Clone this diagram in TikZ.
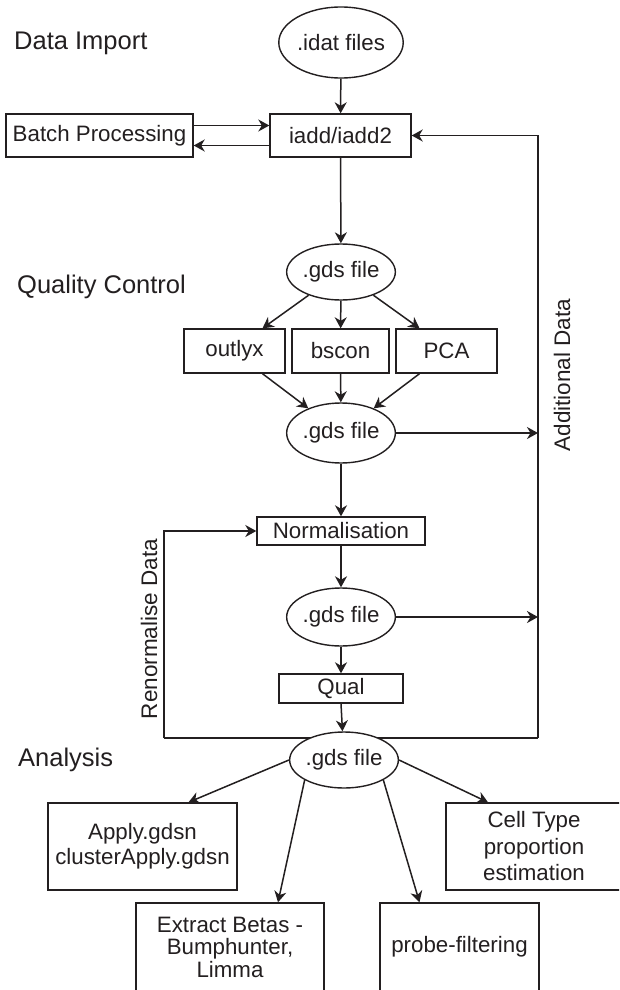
\documentclass[tikz,border=0pt]{standalone}
\usepackage{fontspec}
\setmainfont{Liberation Sans}
\usetikzlibrary{arrows.meta,shapes.geometric,backgrounds}
\definecolor{ink}{RGB}{35,31,32}
\tikzset{
  base/.style={draw=ink, text=ink, line width=1.4pt, inner sep=0pt, font=\fontsize{22.3}{25}\selectfont, align=center, fill=white},
  box/.style={base, rectangle},
  oval/.style={base, ellipse},
  head/.style={text=ink, inner sep=0pt, anchor=west, font=\fontsize{25.5}{28}\selectfont},
  side/.style={text=ink, inner sep=0pt, rotate=90, font=\fontsize{22.5}{25}\selectfont},
  arr/.style={draw=ink, line width=1.5pt, -{Stealth[length=11pt,width=12pt,inset=3.5pt]}},
  ln/.style={draw=ink, line width=1.5pt},
}
\begin{document}
\begin{tikzpicture}[x=1pt,y=-1pt]
\clip (0,0) rectangle (619,990);
% headings
\node[head] (hImport) at (14,43) {Data Import};
\node[head] (hQC) at (17,287) {Quality Control};
\node[head] (hAna) at (18,760) {Analysis};
\node[side] (tAdd) at (562,375) {Additional Data};
\node[side] (tRen) at (149,629) {Renormalise Data};
% nodes
\node[oval, minimum width=112pt, minimum height=71pt] (idat) at (341,42.5) {.idat files};
\node[box, minimum width=187pt, minimum height=43pt] (batch) at (99.5,135.5) {Batch Processing};
\node[box, minimum width=141pt, minimum height=43pt] (iadd) at (340.5,135.5) {iadd/iadd2};
\node[oval, minimum width=96pt, minimum height=56pt] (g1) at (341,272) {.gds file};
\node[box, minimum width=101pt, minimum height=44pt] (outlyx) at (234.5,351) {outlyx};
\node[box, minimum width=97pt, minimum height=44pt] (bscon) at (340.5,351) {bscon};
\node[box, minimum width=101pt, minimum height=44pt] (pca) at (446.5,351) {PCA};
\node[oval, minimum width=96pt, minimum height=60pt] (g2) at (341,433) {.gds file};
\node[box, minimum width=168pt, minimum height=28pt] (norm) at (341,531) {Normalisation};
\node[oval, minimum width=96pt, minimum height=58pt] (g3) at (341,617) {.gds file};
\node[box, minimum width=124pt, minimum height=29pt] (qual) at (341,688.5) {Qual};
\node[oval, minimum width=102pt, minimum height=56pt] (g4) at (344,760) {.gds file};
\node[box, minimum width=189pt, minimum height=87pt] (apply) at (142.5,846.5) {Apply.gdsn\\clusterApply.gdsn};
\node[box, minimum width=176pt, minimum height=87pt, font=\fontsize{22.3}{26.5}\selectfont] (cell) at (534,846.5) {Cell Type\\proportion\\estimation};
\node[box, minimum width=188pt, minimum height=88pt, font=\fontsize{22.3}{22.5}\selectfont] (extract) at (230,947) {Extract Betas -\\Bumphunter,\\Limma};
\node[box, minimum width=159pt, minimum height=88pt] (probe) at (459.5,947) {probe-filtering};
% loop coordinates
\coordinate (rtop) at (538,135.5);
\coordinate (rbot) at (538,738);
\coordinate (ltop) at (164,531);
\coordinate (lbot) at (164,738);
% connectors
\begin{pgfonlayer}{background}
\fill[white] (0,0) rectangle (619,990);
\draw[ln] (lbot) -- (rbot);
\end{pgfonlayer}
\draw[arr] (rbot) -- (rtop) -- (iadd.east);
\draw[arr] (lbot) -- (ltop) -- (norm.west);
\draw[arr] (idat) -- (iadd);
\draw[arr] ([yshift=10pt]batch.east) -- ([yshift=10pt]iadd.west);
\draw[arr] ([yshift=-10pt]iadd.west) -- ([yshift=-10pt]batch.east);
\draw[arr] (iadd) -- (g1);
\draw[arr] (g1) -- ([xshift=28pt]outlyx.north);
\draw[arr] (g1) -- (bscon);
\draw[arr] (g1) -- ([xshift=-27pt]pca.north);
\draw[arr] ([xshift=28pt]outlyx.south) -- (g2);
\draw[arr] (bscon) -- (g2);
\draw[arr] ([xshift=-27pt]pca.south) -- (g2);
\draw[arr] (g2.east) -- (g2.east -| rtop);
\draw[arr] (g2) -- (norm);
\draw[arr] (norm) -- (g3);
\draw[arr] (g3.east) -- (g3.east -| rtop);
\draw[arr] (g3) -- (qual);
\draw[arr] (qual.south) -- (g4);
\draw[arr] (g4.west) -- ([xshift=46pt]apply.north);
\draw[arr] (g4.east) -- ([xshift=-46pt]cell.north);
\draw[arr] (g4.207) -- ([xshift=48pt]extract.north);
\draw[arr] (g4.333) -- ([xshift=-40pt]probe.north);
\end{tikzpicture}
\end{document}
